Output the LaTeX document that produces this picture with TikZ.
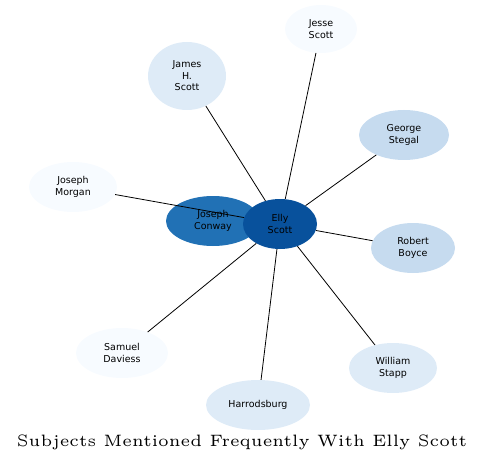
\documentclass[tikz,border=0pt]{standalone}
\usepackage{fontspec}
\newfontfamily\labelfont{DejaVu Sans}
\usetikzlibrary{shapes.geometric}
\definecolor{cA}{HTML}{08519C}
\definecolor{cB}{HTML}{2171B5}
\definecolor{cC}{HTML}{C6DBEF}
\definecolor{cD}{HTML}{DEEBF7}
\definecolor{cE}{HTML}{F7FBFF}
\begin{document}
\begin{tikzpicture}[x=1pt,y=-1pt,
  ent/.style={ellipse,inner sep=0pt,align=center,draw=none,
    font=\labelfont\fontsize{9.5}{11.5}\selectfont},
  link/.style={draw=black,line width=0.8pt}]
\useasboundingbox (0,0) rectangle (484,465);
\node[ent,fill=cB,minimum width=94pt,minimum height=50pt] (conway) at (213,221) {Joseph\\Conway};
\node[ent,fill=cA,minimum width=74pt,minimum height=50pt] (elly) at (280,224) {Elly\\Scott};
\node[ent,fill=cE,minimum width=72pt,minimum height=48pt] (jesse) at (321,29) {Jesse\\Scott};
\node[ent,fill=cD,minimum width=78pt,minimum height=68pt] (james) at (187,76) {James\\H.\\Scott};
\node[ent,fill=cC,minimum width=90pt,minimum height=50pt] (george) at (404,135) {George\\Stegal};
\node[ent,fill=cE,minimum width=88pt,minimum height=50pt] (morgan) at (73,187) {Joseph\\Morgan};
\node[ent,fill=cC,minimum width=84pt,minimum height=50pt] (robert) at (413,248) {Robert\\Boyce};
\node[ent,fill=cE,minimum width=92pt,minimum height=50pt] (samuel) at (122,353) {Samuel\\Daviess};
\node[ent,fill=cD,minimum width=88pt,minimum height=50pt] (william) at (393,368) {William\\Stapp};
\node[ent,fill=cD,minimum width=104pt,minimum height=50pt] (harrods) at (258,405) {Harrodsburg};
\draw[link] (elly) -- (jesse);
\draw[link] (elly) -- (james);
\draw[link] (elly) -- (george);
\draw[link] (elly) -- (morgan);
\draw[link] (elly) -- (robert);
\draw[link] (elly) -- (samuel);
\draw[link] (elly) -- (william);
\draw[link] (elly) -- (harrods);
\node[inner sep=0pt] (title) at (242,442) {\scalebox{3.15}[3.3]{\fontsize{5}{6}\selectfont Subjects Mentioned Frequently With Elly Scott}};
\end{tikzpicture}
\end{document}
